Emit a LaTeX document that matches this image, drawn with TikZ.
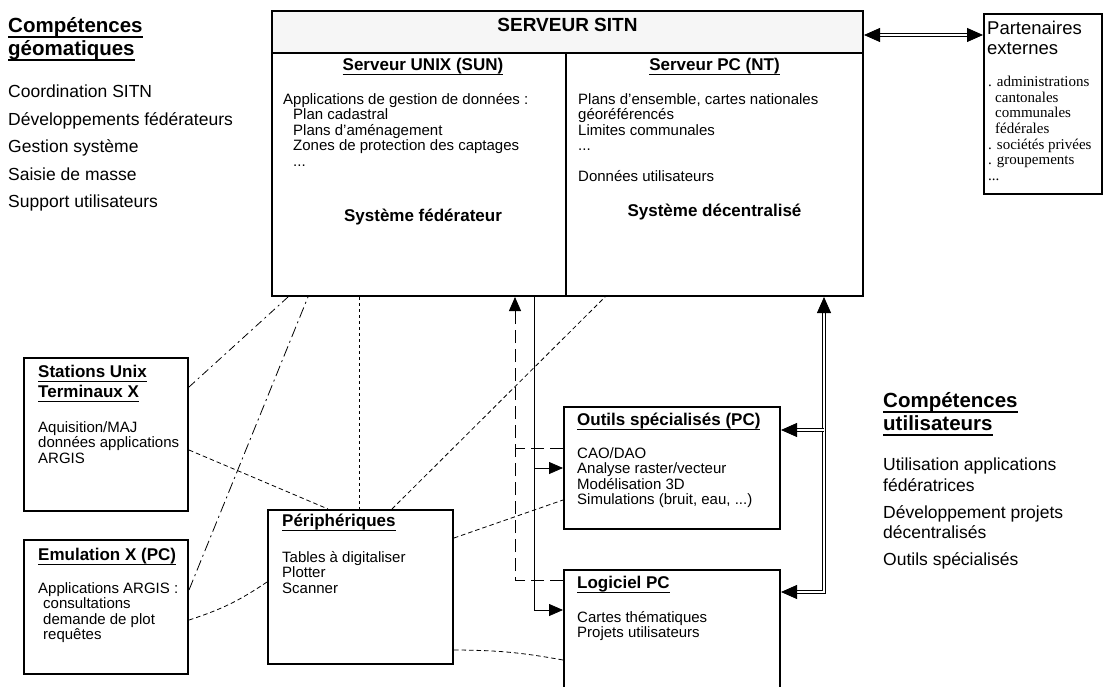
\documentclass[tikz,border=0pt]{standalone}
\usepackage{fontspec}
\setmainfont{Liberation Sans}
\newfontfamily\serfont{Liberation Serif}
\usetikzlibrary{positioning, arrows.meta}
\newcommand{\ulword}[1]{\setbox0\hbox{#1}\rlap{\rule[-0.27em]{\wd0}{0.075em}}\box0}

\begin{document}
\begin{tikzpicture}[x=1pt, y=-1pt,
    box/.style={rectangle, draw, line width=2pt, inner sep=0pt, anchor=north west},
    title/.style={inner sep=0pt, anchor=north, font=\bfseries\fontsize{17}{20}\selectfont},
    heading/.style={inner sep=0pt, anchor=north west, align=left, font=\bfseries\fontsize{17}{20}\selectfont},
    body/.style={inner sep=0pt, anchor=north west, align=left, font=\fontsize{15}{15.5}\selectfont},
    skill/.style={inner sep=0pt, anchor=north west, align=left, font=\fontsize{17.5}{20.5}\selectfont},
    skillhead/.style={inner sep=0pt, anchor=north west, align=left, font=\bfseries\fontsize{20.5}{23}\selectfont},
    link/.style={line width=0.8pt},
    dashline/.style={link, dash pattern=on 4.5pt off 3pt},
    dotline/.style={link, dash pattern=on 3pt off 3pt},
    dashdotline/.style={link, dash pattern=on 8pt off 4pt on 2pt off 4pt},
    dashdotlong/.style={link, dash pattern=on 11pt off 4pt on 2pt off 4pt},
    longdash/.style={link, dash pattern=on 13pt off 6pt},
    tip/.style={-{Triangle[length=14pt, width=12pt]}},
    arrow/.style={link, tip},
    dbl/.style={line width=0.8pt, double, double distance=1.8pt},
    dbltip/.tip={Triangle[length=16pt, width=14pt]},
]
\useasboundingbox (0,0) rectangle (1103,687);
\clip (0,0) rectangle (1103,687);

% server
\node[box, fill=gray!7, minimum width=591pt, minimum height=42pt] (sitn) at (271,10) {};
\node[box, minimum width=294pt, minimum height=243pt] (unix) at (271,52) {};
\node[box, minimum width=297pt, minimum height=243pt] (pcnt) at (565,52) {};
\node[title, font=\bfseries\fontsize{19}{22}\selectfont] (sitnlbl) at ([yshift=-8pt]sitn.north) {SERVEUR SITN};
\node[title] (unixlbl) at ([xshift=4pt, yshift=-6pt]unix.north) {\ulword{Serveur UNIX (SUN)}};
\node[body] (unixtxt) at (283,93) {Applications de gestion de données :\\
    \hspace{10pt}Plan cadastral\\\hspace{10pt}Plans d'aménagement\\
    \hspace{10pt}Zones de protection des captages\\\hspace{10pt}...};
\node[title] (unixsys) at ([xshift=4pt, yshift=-157pt]unix.north) {Système fédérateur};
\node[title] (pcntlbl) at ([yshift=-6pt]pcnt.north) {\ulword{Serveur PC (NT)}};
\node[body] (pcnttxt) at (578,93) {Plans d'ensemble, cartes nationales\\géoréférencés\\
    Limites communales\\...\\[15.5pt]Données utilisateurs};
\node[title] (pcntsys) at ([yshift=-152pt]pcnt.north) {Système décentralisé};

% partners
\node[box, minimum width=118pt, minimum height=180pt] (part) at (983,13) {};
\node[body, font=\fontsize{18.5}{19.5}\selectfont] (partlbl) at (987,21) {Partenaires\\externes};
\node[body, font=\serfont\fontsize{15}{15.6}\selectfont] (parttxt) at (988,76) {. administrations\\
    \hspace{7pt}cantonales\\\hspace{7pt}communales\\\hspace{7pt}fédérales\\
    . sociétés privées\\. groupements\\...};

% client boxes
\node[box, minimum width=164pt, minimum height=153pt] (stations) at (23,357) {};
\node[heading] (stationslbl) at (38,365) {\ulword{Stations Unix}\\\ulword{Terminaux X}};
\node[body] (stationstxt) at (38,421) {Aquisition/MAJ\\données applications\\ARGIS};
\node[box, minimum width=164pt, minimum height=134pt] (emul) at (23,539) {};
\node[heading] (emullbl) at (38,548) {\ulword{Emulation X (PC)}};
\node[body] (emultxt) at (38,582) {Applications ARGIS :\\\hspace{5pt}consultations\\
    \hspace{5pt}demande de plot\\\hspace{5pt}requêtes};
\node[box, minimum width=185pt, minimum height=154pt] (periph) at (267,509) {};
\node[heading] (periphlbl) at (282,514) {\ulword{Périphériques}};
\node[body] (periphtxt) at (282,551) {Tables à digitaliser\\Plotter\\Scanner};
\node[box, minimum width=216pt, minimum height=122pt] (outils) at (563,406) {};
\node[heading] (outilslbl) at (577,413) {\ulword{Outils spécialisés (PC)}};
\node[body] (outilstxt) at (577,447) {CAO/DAO\\Analyse raster/vecteur\\Modélisation 3D\\
    Simulations (bruit, eau, ...)};
\node[box, minimum width=216pt, minimum height=130pt] (logiciel) at (563,569) {};
\node[heading] (logiciellbl) at (577,576) {\ulword{Logiciel PC}};
\node[body] (logicieltxt) at (577,611) {Cartes thématiques\\Projets utilisateurs};

% skills
\node[skillhead] (geohead) at (8,17) {\ulword{Compétences}\\\ulword{géomatiques}};
\node[skill] (geolist) at (8,85) {Coordination SITN\\[7pt]Développements fédérateurs\\[7pt]
    Gestion système\\[7pt]Saisie de masse\\[7pt]Support utilisateurs};
\node[skillhead] (userhead) at (883,392) {\ulword{Compétences}\\\ulword{utilisateurs}};
\node[skill] (userlist) at (883,458) {Utilisation applications\\fédératrices\\[6.5pt]
    Développement projets\\décentralisés\\[6.5pt]Outils spécialisés};

% connections to the server
\draw[dashdotline] ([yshift=-30pt]stations.north east) -- ([xshift=17pt]unix.south west);
\draw[dashdotlong] ([yshift=-51pt]emul.north east) -- ([xshift=37pt]unix.south west);
\draw[dotline] ([xshift=88pt]unix.south west) -- ([xshift=92pt]periph.north west);
\draw[dashline] ([xshift=125pt]periph.north west) -- ([xshift=40pt]pcnt.south west);

% peripherals
\draw[dashline] ([yshift=-93pt]stations.north east) -- ([xshift=61pt]periph.north west);
\draw[dashline] ([yshift=-81pt]emul.north east) to[bend right=8] ([yshift=-73pt]periph.north west);
\draw[dashline] ([yshift=-29pt]periph.north east) -- ([yshift=-94pt]outils.north west);
\draw[dashline] ([yshift=-141pt]periph.north east) to[bend left=5] ([yshift=-91pt]logiciel.north west);

% trunks
\coordinate (trunkA) at ([xshift=244pt]unix.south west);
\coordinate (trunkB) at ([xshift=263pt]unix.south west);
\coordinate (trunkC) at ([xshift=-40pt]pcnt.south east);
\coordinate (outilsA) at ([yshift=-42pt]outils.north west);
\coordinate (outilsB) at ([yshift=-62pt]outils.north west);
\coordinate (outilsC) at ([yshift=-24pt]outils.north east);
\coordinate (logicielA) at ([yshift=-11pt]logiciel.north west);
\coordinate (logicielB) at ([yshift=-41pt]logiciel.north west);
\coordinate (logicielC) at ([yshift=-23pt]logiciel.north east);
\coordinate (sitnE) at ([yshift=-25pt]sitn.north east);
\coordinate (partW) at ([yshift=-22pt]part.north west);

\draw[longdash, tip] (logicielA) -| (trunkA);
\draw[longdash] (outilsA) -- (outilsA -| trunkA);
\draw[arrow] (trunkB) |- (logicielB);
\draw[arrow] (outilsB -| trunkB) -- (outilsB);
\draw[dbl, dbltip-dbltip] (logicielC) -| (trunkC);
\draw[dbl, -dbltip] (outilsC -| trunkC) -- (outilsC);
\draw[dbl, dbltip-dbltip] (sitnE) -- (partW);

\end{tikzpicture}
\end{document}
